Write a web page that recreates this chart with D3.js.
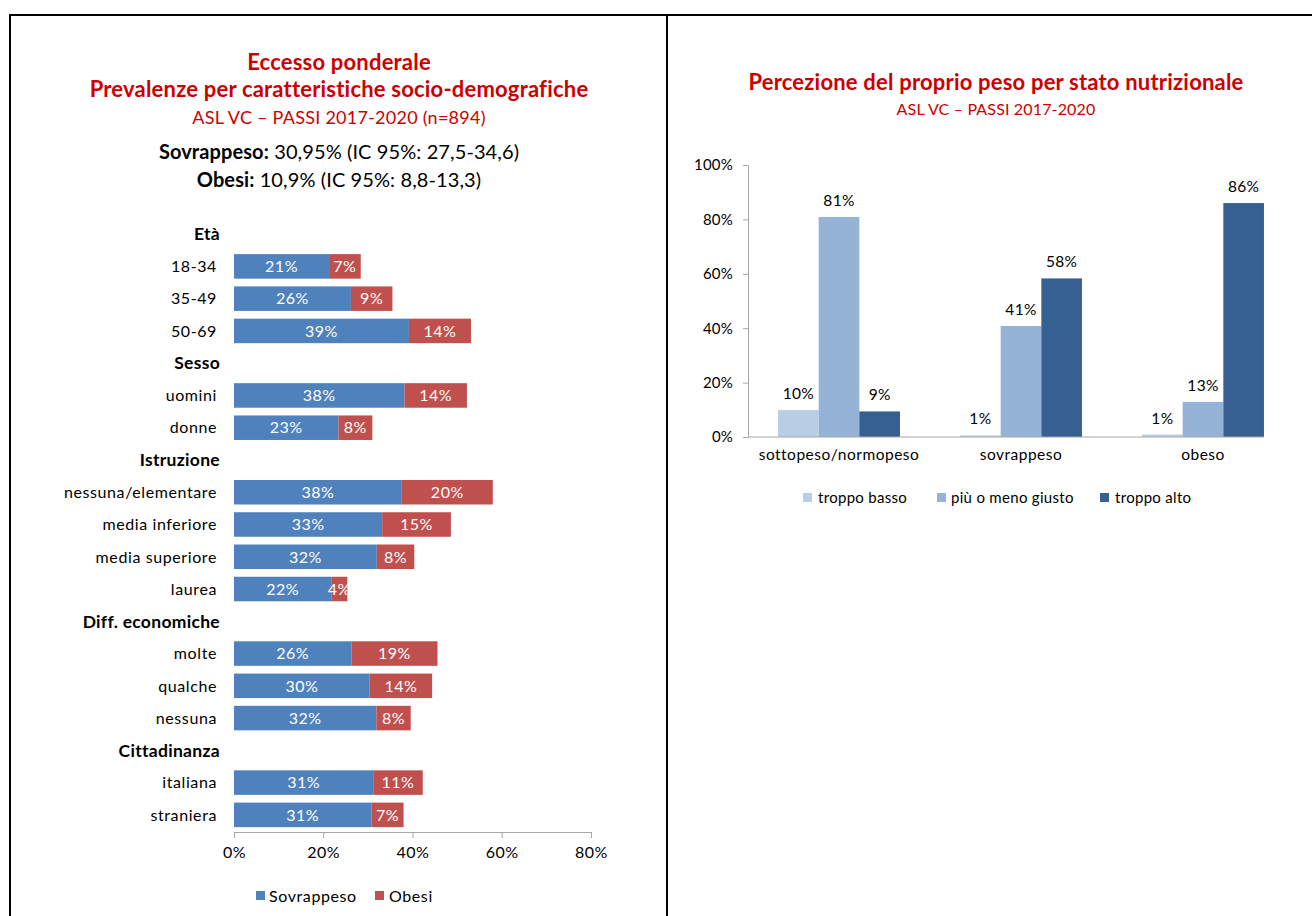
<!DOCTYPE html>
<html>
<head>
<meta charset="utf-8">
<script src="https://cdn.jsdelivr.net/npm/d3@7"></script>
<style>
  html, body { margin: 0; padding: 0; background: #fff; }
  svg { display: block; font-family: Lato, "Open Sans", sans-serif; }
</style>
</head>
<body>
<svg id="chart" width="1312" height="916"></svg>
<script>
// ---------- Left chart data ----------
const rowLabels = ["Età","18-34","35-49","50-69","Sesso","uomini","donne","Istruzione",
  "nessuna/elementare","media inferiore","media superiore","laurea","Diff. economiche",
  "molte","qualche","nessuna","Cittadinanza","italiana","straniera"];
const headerRows = ["Età","Sesso","Istruzione","Diff. economiche","Cittadinanza"];
const categories = ["18-34","35-49","50-69","uomini","donne","nessuna/elementare",
  "media inferiore","media superiore","laurea","molte","qualche","nessuna","italiana","straniera"];
const sovrappeso = [21.3, 26.2, 39.2, 38.2, 23.4, 37.6, 33.2, 32.0, 21.8, 26.3, 30.4, 31.9, 31.2, 30.8];
const obesi      = [ 7.1,  9.3, 13.9, 14.0,  7.6, 20.4, 15.4,  8.4,  3.6, 19.3, 14.0,  7.7, 11.1,  7.2];
const leftSeries = ["Sovrappeso","Obesi"];
const leftTicks = [0, 20, 40, 60, 80];

// ---------- Right chart data ----------
const statoCategories = ["sottopeso/normopeso","sovrappeso","obeso"];
const percezioneSeries = ["troppo basso","più o meno giusto","troppo alto"];
const troppoBasso = [9.9, 0.6, 0.9];
const piuOMenoGiusto = [80.9, 40.8, 12.9];
const troppoAlto = [9.4, 58.3, 86.0];
const rightTicks = [0, 20, 40, 60, 80, 100];

const svg = d3.select("#chart");
const RED = "#cc0000";

// ---------- Frame ----------
svg.append("line").attr("x1", 9).attr("x2", 1312).attr("y1", 15).attr("y2", 15)
  .attr("stroke", "#000").attr("stroke-width", 2);
svg.append("line").attr("x1", 10).attr("x2", 10).attr("y1", 14).attr("y2", 916)
  .attr("stroke", "#000").attr("stroke-width", 2);
svg.append("line").attr("x1", 667).attr("x2", 667).attr("y1", 14).attr("y2", 916)
  .attr("stroke", "#000").attr("stroke-width", 2);

// ---------- Left titles ----------
const lcx = 339;
svg.append("text").attr("x", lcx).attr("y", 70).attr("text-anchor", "middle")
  .attr("fill", RED).attr("font-weight", "bold").attr("font-size", 22).attr("letter-spacing", 0.2)
  .text("Eccesso ponderale");
svg.append("text").attr("x", lcx).attr("y", 97).attr("text-anchor", "middle")
  .attr("fill", RED).attr("font-weight", "bold").attr("font-size", 22).attr("letter-spacing", 0.2)
  .text("Prevalenze per caratteristiche socio-demografiche");
svg.append("text").attr("x", lcx).attr("y", 124).attr("text-anchor", "middle")
  .attr("fill", RED).attr("font-size", 18).attr("letter-spacing", 0.25)
  .text("ASL VC – PASSI 2017-2020 (n=894)");
const s1 = svg.append("text").attr("x", lcx).attr("y", 159).attr("text-anchor", "middle")
  .attr("fill", "#000").attr("font-size", 20).attr("letter-spacing", 0.1);
s1.append("tspan").attr("font-weight", "bold").text("Sovrappeso:");
s1.append("tspan").text(" 30,95% (IC 95%:  27,5-34,6)");
const s2 = svg.append("text").attr("x", lcx).attr("y", 187).attr("text-anchor", "middle")
  .attr("fill", "#000").attr("font-size", 20).attr("letter-spacing", 0.1);
s2.append("tspan").attr("font-weight", "bold").text("Obesi:");
s2.append("tspan").text(" 10,9% (IC 95%:  8,8-13,3)");

// ---------- Left bar chart ----------
const xL = d3.scaleLinear().domain([0, 80]).range([234, 591]);
const yL = d3.scaleBand().domain(rowLabels).range([218, 831]).paddingInner(0.24).paddingOuter(0.12);
const colorL = d3.scaleOrdinal().domain(leftSeries).range(["#4f81bd", "#c0504d"]);

const leftData = categories.map((c, i) => ({ cat: c, Sovrappeso: sovrappeso[i], Obesi: obesi[i] }));
const stacked = d3.stack().keys(leftSeries)(leftData);

const gL = svg.append("g");
stacked.forEach(layer => {
  const g = gL.append("g").attr("fill", colorL(layer.key));
  g.selectAll("rect").data(layer).join("rect")
    .attr("x", d => xL(d[0]))
    .attr("width", d => xL(d[1]) - xL(d[0]))
    .attr("y", d => yL(d.data.cat))
    .attr("height", yL.bandwidth());
});
stacked.forEach(layer => {
  gL.append("g").selectAll("text").data(layer).join("text")
    .attr("x", d => (xL(d[0]) + xL(d[1])) / 2)
    .attr("y", d => yL(d.data.cat) + yL.bandwidth() / 2)
    .attr("dy", "0.36em")
    .attr("text-anchor", "middle")
    .attr("fill", "#fff")
    .attr("font-size", 16)
    .attr("letter-spacing", 0.5)
    .text(d => Math.round(d[1] - d[0]) + "%");
});

// row labels
svg.append("g").selectAll("text").data(rowLabels).join("text")
  .attr("x", d => headerRows.includes(d) ? 220 : 217)
  .attr("y", d => yL(d) + yL.bandwidth() / 2)
  .attr("dy", "0.36em")
  .attr("text-anchor", "end")
  .attr("fill", "#000")
  .attr("font-weight", d => headerRows.includes(d) ? "bold" : "normal")
  .attr("font-size", d => headerRows.includes(d) ? 17.5 : 16)
  .attr("letter-spacing", d => headerRows.includes(d) ? 0.3 : 0.6)
  .text(d => d);

// x axis
const axL = svg.append("g").attr("transform", "translate(0,832)")
  .call(d3.axisBottom(xL).tickValues(leftTicks).tickSize(6).tickSizeOuter(0).tickFormat(d => d + "%"));
axL.select(".domain").attr("stroke", "#a6a6a6");
axL.selectAll(".tick line").attr("stroke", "#a6a6a6");
axL.selectAll(".tick text").attr("font-size", 16).attr("letter-spacing", 0.5).attr("fill", "#000")
  .attr("font-family", "Lato, sans-serif").attr("dy", "1.05em");

// left legend
const legL = svg.append("g");
const legLpos = [{ x: 256, tx: 269 }, { x: 375, tx: 389 }];
leftSeries.forEach((s, i) => {
  legL.append("rect").attr("x", legLpos[i].x).attr("y", 891).attr("width", 9).attr("height", 9)
    .attr("fill", colorL(s));
  legL.append("text").attr("x", legLpos[i].tx).attr("y", 896).attr("dy", "0.36em")
    .attr("font-size", 16).attr("letter-spacing", 0.6).attr("fill", "#000").text(s);
});

// ---------- Right titles ----------
const rcx = 996;
svg.append("text").attr("x", rcx).attr("y", 90).attr("text-anchor", "middle")
  .attr("fill", RED).attr("font-weight", "bold").attr("font-size", 22).attr("letter-spacing", 0.2)
  .text("Percezione del proprio peso per stato nutrizionale");
svg.append("text").attr("x", rcx).attr("y", 115).attr("text-anchor", "middle")
  .attr("fill", RED).attr("font-size", 16).attr("letter-spacing", 0.15).text("ASL VC – PASSI 2017-2020");

// ---------- Right grouped column chart ----------
const yR = d3.scaleLinear().domain([0, 100]).range([437, 165]);
const x0 = d3.scaleBand().domain(statoCategories).range([748, 1294]).paddingInner(0.33).paddingOuter(0.165);
const x1 = d3.scaleBand().domain(percezioneSeries).range([0, x0.bandwidth()]);
const colorR = d3.scaleOrdinal().domain(percezioneSeries).range(["#b9cde5", "#95b3d7", "#376092"]);
const seriesVals = { "troppo basso": troppoBasso, "più o meno giusto": piuOMenoGiusto, "troppo alto": troppoAlto };

const rightData = [];
statoCategories.forEach((c, i) => {
  percezioneSeries.forEach(s => rightData.push({ cat: c, key: s, v: seriesVals[s][i] }));
});

const gR = svg.append("g");
gR.selectAll("rect").data(rightData).join("rect")
  .attr("x", d => x0(d.cat) + x1(d.key))
  .attr("width", x1.bandwidth())
  .attr("y", d => yR(d.v))
  .attr("height", d => yR(0) - yR(d.v))
  .attr("fill", d => colorR(d.key));
gR.selectAll("text").data(rightData).join("text")
  .attr("x", d => x0(d.cat) + x1(d.key) + x1.bandwidth() / 2)
  .attr("y", d => yR(d.v) - 11)
  .attr("text-anchor", "middle")
  .attr("font-size", 15.5)
  .attr("letter-spacing", 0.3)
  .attr("fill", "#000")
  .text(d => Math.round(d.v) + "%");

// y axis
const ayR = svg.append("g").attr("transform", "translate(748,0)")
  .call(d3.axisLeft(yR).tickValues(rightTicks).tickSize(5).tickSizeOuter(0).tickFormat(d => d + "%"));
ayR.select(".domain").attr("stroke", "#a6a6a6");
ayR.selectAll(".tick line").attr("stroke", "#a6a6a6");
ayR.selectAll(".tick text").attr("font-size", 15).attr("letter-spacing", 0.2).attr("fill", "#000")
  .attr("font-family", "Lato, sans-serif").attr("x", -15);

// x axis
const axR = svg.append("g").attr("transform", "translate(0,437)")
  .call(d3.axisBottom(x0).tickSize(0));
axR.select(".domain").remove();
axR.append("line").attr("x1", 748)
  .attr("x2", x0(statoCategories[statoCategories.length - 1]) + x0.bandwidth())
  .attr("stroke", "#a6a6a6");
axR.selectAll(".tick text").attr("font-size", 15.5).attr("letter-spacing", 0.5).attr("fill", "#000")
  .attr("font-family", "Lato, sans-serif").attr("dy", "1.3em");

// right legend
const legR = svg.append("g");
const legRpos = [{ x: 803, tx: 818 }, { x: 937, tx: 951 }, { x: 1100, tx: 1115 }];
percezioneSeries.forEach((s, i) => {
  legR.append("rect").attr("x", legRpos[i].x).attr("y", 493).attr("width", 9).attr("height", 9)
    .attr("fill", colorR(s));
  legR.append("text").attr("x", legRpos[i].tx).attr("y", 498).attr("dy", "0.36em")
    .attr("font-size", 15).attr("letter-spacing", 0.3).attr("fill", "#000").text(s);
});
</script>
</body>
</html>
